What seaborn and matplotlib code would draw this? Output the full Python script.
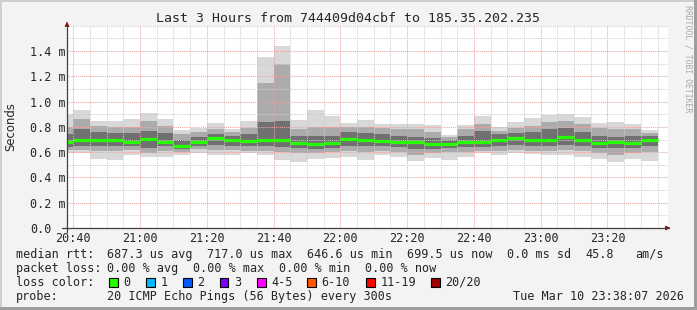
import matplotlib
matplotlib.use("Agg")
import matplotlib.pyplot as plt
import seaborn as sns
from matplotlib.patches import Rectangle
from matplotlib.lines import Line2D
from matplotlib.ticker import MultipleLocator

# ---------------- data (values in milliseconds) ----------------
interval_start = ["20:35", "20:40", "20:45", "20:50", "20:55", "21:00", "21:05", "21:10",
                  "21:15", "21:20", "21:25", "21:30", "21:35", "21:40", "21:45", "21:50",
                  "21:55", "22:00", "22:05", "22:10", "22:15", "22:20", "22:25", "22:30",
                  "22:35", "22:40", "22:45", "22:50", "22:55", "23:00", "23:05", "23:10",
                  "23:15", "23:20", "23:25", "23:30"]
rtt_max = [0.900, 0.933, 0.846, 0.846, 0.860, 0.912, 0.862, 0.775, 0.794, 0.831, 0.783, 0.846,
           1.353, 1.440, 0.854, 0.933, 0.886, 0.833, 0.854, 0.823, 0.823, 0.823, 0.815, 0.736,
           0.815, 0.886, 0.800, 0.836, 0.870, 0.896, 0.900, 0.880, 0.828, 0.836, 0.823, 0.775]
rtt_p90 = [0.800, 0.860, 0.810, 0.800, 0.800, 0.850, 0.810, 0.740, 0.760, 0.780, 0.760, 0.790,
           1.150, 1.300, 0.780, 0.800, 0.800, 0.800, 0.800, 0.790, 0.780, 0.780, 0.760, 0.720,
           0.780, 0.820, 0.770, 0.790, 0.810, 0.840, 0.850, 0.820, 0.790, 0.780, 0.780, 0.750]
rtt_p75 = [0.740, 0.780, 0.760, 0.750, 0.750, 0.770, 0.750, 0.700, 0.720, 0.740, 0.730, 0.740,
           0.840, 0.850, 0.730, 0.730, 0.730, 0.760, 0.750, 0.740, 0.730, 0.720, 0.710, 0.700,
           0.730, 0.770, 0.740, 0.750, 0.760, 0.780, 0.790, 0.760, 0.730, 0.720, 0.730, 0.730]
rtt_median = [0.683, 0.696, 0.700, 0.694, 0.680, 0.704, 0.683, 0.649, 0.683, 0.710, 0.696, 0.690,
              0.700, 0.694, 0.675, 0.662, 0.670, 0.704, 0.696, 0.686, 0.680, 0.678, 0.667, 0.662,
              0.678, 0.680, 0.696, 0.712, 0.694, 0.694, 0.720, 0.696, 0.670, 0.678, 0.675, 0.696]
rtt_p25 = [0.640, 0.645, 0.645, 0.645, 0.645, 0.635, 0.645, 0.625, 0.650, 0.655, 0.650, 0.645,
           0.645, 0.640, 0.635, 0.625, 0.630, 0.650, 0.645, 0.645, 0.640, 0.625, 0.625, 0.630,
           0.640, 0.640, 0.645, 0.655, 0.645, 0.645, 0.660, 0.650, 0.630, 0.630, 0.630, 0.650]
rtt_p10 = [0.615, 0.615, 0.610, 0.610, 0.615, 0.595, 0.610, 0.600, 0.625, 0.620, 0.615, 0.610,
           0.610, 0.600, 0.590, 0.590, 0.600, 0.610, 0.600, 0.610, 0.600, 0.580, 0.590, 0.600,
           0.600, 0.610, 0.610, 0.620, 0.610, 0.610, 0.620, 0.610, 0.590, 0.580, 0.590, 0.600]
rtt_min = [0.590, 0.595, 0.548, 0.538, 0.575, 0.559, 0.559, 0.575, 0.590, 0.575, 0.580, 0.590,
           0.578, 0.538, 0.522, 0.548, 0.554, 0.564, 0.538, 0.575, 0.559, 0.533, 0.551, 0.538,
           0.559, 0.590, 0.580, 0.590, 0.585, 0.575, 0.580, 0.564, 0.548, 0.522, 0.548, 0.533]

x_tick_labels = ["20:40", "21:00", "21:20", "21:40", "22:00", "22:20", "22:40", "23:00", "23:20"]
y_tick_values = [0.0, 0.2, 0.4, 0.6, 0.8, 1.0, 1.2, 1.4]
y_tick_labels = ["0.0", "0.2 m", "0.4 m", "0.6 m", "0.8 m", "1.0 m", "1.2 m", "1.4 m"]

loss_labels = ["0", "1", "2", "3", "4-5", "6-10", "11-19", "20/20"]
loss_colors = ["#26ff00", "#00b8ff", "#0059ff", "#7e00ff", "#ff00ff", "#ff5500", "#ff0000", "#a10000"]

title = "Last 3 Hours from 744409d04cbf to 185.35.202.235"

# ---------------- helpers ----------------
def minutes(t):
    h, m = t.split(":")
    return int(h) * 60 + int(m) - 20 * 60

starts = [minutes(t) for t in interval_start]
STEP = 5
ends = [s + STEP for s in starts]

W, H = 697, 310
def fx(px): return px / W
def fy(py): return 1 - py / H

sns.set_style("white")
plt.rcParams["font.family"] = ["DejaVu Sans Mono", "DejaVu Sans"]

fig = plt.figure(figsize=(W / 100, H / 100), dpi=100)
fig.patch.set_facecolor("#f3f3f3")

ax_l, ax_r, ax_b, ax_t = 67, 668, 228, 25.8
ax = fig.add_axes([fx(ax_l), fy(ax_b), (ax_r - ax_l) / W, (ax_b - ax_t) / H])
ax.set_facecolor("white")

# smoke
ax.bar(starts, [a - b for a, b in zip(rtt_max, rtt_min)], bottom=rtt_min, width=STEP,
       align="edge", color="#d8d8d8", linewidth=0, zorder=1)
ax.bar(starts, [a - b for a, b in zip(rtt_p90, rtt_p10)], bottom=rtt_p10, width=STEP,
       align="edge", color="#ababab", linewidth=0, zorder=1)
ax.bar(starts, [a - b for a, b in zip(rtt_p75, rtt_p25)], bottom=rtt_p25, width=STEP,
       align="edge", color="#707070", linewidth=0, zorder=1)
# median
ax.hlines(rtt_median, starts, ends, colors="#26ff00", linewidth=2.3, zorder=4)

ax.set_xlim(38.12, 218.12)
ax.set_ylim(0, 1.6)

ax.set_xticks([minutes(t) for t in x_tick_labels], x_tick_labels)
ax.xaxis.set_minor_locator(MultipleLocator(5))
ax.set_yticks(y_tick_values, y_tick_labels)
ax.yaxis.set_minor_locator(MultipleLocator(0.1))
ax.tick_params(which="both", length=0)
ax.tick_params(axis="x", pad=3, labelsize=8.5)
ax.tick_params(axis="y", pad=26.4, labelsize=8.5)
for lab in ax.get_yticklabels():
    lab.set_horizontalalignment("left")

ax.set_axisbelow(False)
ax.grid(which="major", color="#f2a3a3", linestyle=(0, (1, 1)), linewidth=0.75, zorder=3)
ax.grid(which="minor", color="#cfcfcf", linestyle=(0, (1, 1)), linewidth=0.75, zorder=3)
for s in ax.spines.values():
    s.set_visible(False)

# axis lines with arrows
fig.add_artist(Line2D([fx(62), fx(669)], [fy(228), fy(228)], color="#404040", lw=0.9))
fig.add_artist(Line2D([fx(67), fx(67)], [fy(232), fy(24)], color="#404040", lw=0.9))
ax.annotate("", xy=(fx(673), fy(228)), xytext=(fx(666), fy(228)), xycoords="figure fraction",
            arrowprops=dict(arrowstyle="-|>", color="#8b0000", lw=0.5, mutation_scale=7))
ax.annotate("", xy=(fx(67), fy(19)), xytext=(fx(67), fy(26)), xycoords="figure fraction",
            arrowprops=dict(arrowstyle="-|>", color="#8b0000", lw=0.5, mutation_scale=7))

# frame
fig.add_artist(Rectangle((0, fy(2)), 1, 2 / H, transform=fig.transFigure, color="#cfcfcf", lw=0))
fig.add_artist(Rectangle((0, 0), 2 / W, 1, transform=fig.transFigure, color="#cfcfcf", lw=0))
fig.add_artist(Rectangle((0, 0), 1, 3 / H, transform=fig.transFigure, color="#9e9e9e", lw=0))
fig.add_artist(Rectangle((fx(694), 0), 3 / W, 1, transform=fig.transFigure, color="#9e9e9e", lw=0))

# texts
fig.text(fx(347.5), fy(19), title, ha="center", va="center", fontsize=9.5)
fig.text(fx(11), fy(127), "Seconds", rotation=90, ha="center", va="center",
         fontsize=8.4, family="DejaVu Sans")
fig.text(fx(688), fy(5), "RRDTOOL / TOBI OETIKER", rotation=270, ha="center", va="top",
         fontsize=5.9, color="#a8a8a8")

FS = 8.5
def t(x, y, s):
    fig.text(fx(x), fy(y), s, ha="left", va="center", fontsize=FS)

y1, y2, y3, y4 = 254.3, 268.3, 282.3, 296.3
t(16, y1, "median rtt:")
t(107, y1, "687.3 us avg")
t(207, y1, "717.0 us max")
t(307, y1, "646.6 us min")
t(406.7, y1, "699.5 us now")
t(506.7, y1, "0.0 ms sd")
t(585, y1, "45.8")
t(635, y1, "am/s")

t(16, y2, "packet loss:")
t(107, y2, "0.00 % avg")
t(193, y2, "0.00 % max")
t(279, y2, "0.00 % min")
t(365, y2, "0.00 % now")

t(16, y3, "loss color:")
box_x = [109, 146, 183, 219.5, 257, 307, 366, 431]
for bx, lab, col in zip(box_x, loss_labels, loss_colors):
    fig.add_artist(Rectangle((fx(bx), fy(286.8)), 8.5 / W, 9 / H, transform=fig.transFigure,
                             facecolor=col, edgecolor="black", lw=0.8))
    t(bx + 14.5, y3, lab)

t(16, y4, "probe:")
t(107, y4, "20 ICMP Echo Pings (56 Bytes) every 300s")
t(513, y4, "Tue Mar 10 23:38:07 2026")

fig.savefig("out.png", dpi=100, facecolor=fig.get_facecolor())
